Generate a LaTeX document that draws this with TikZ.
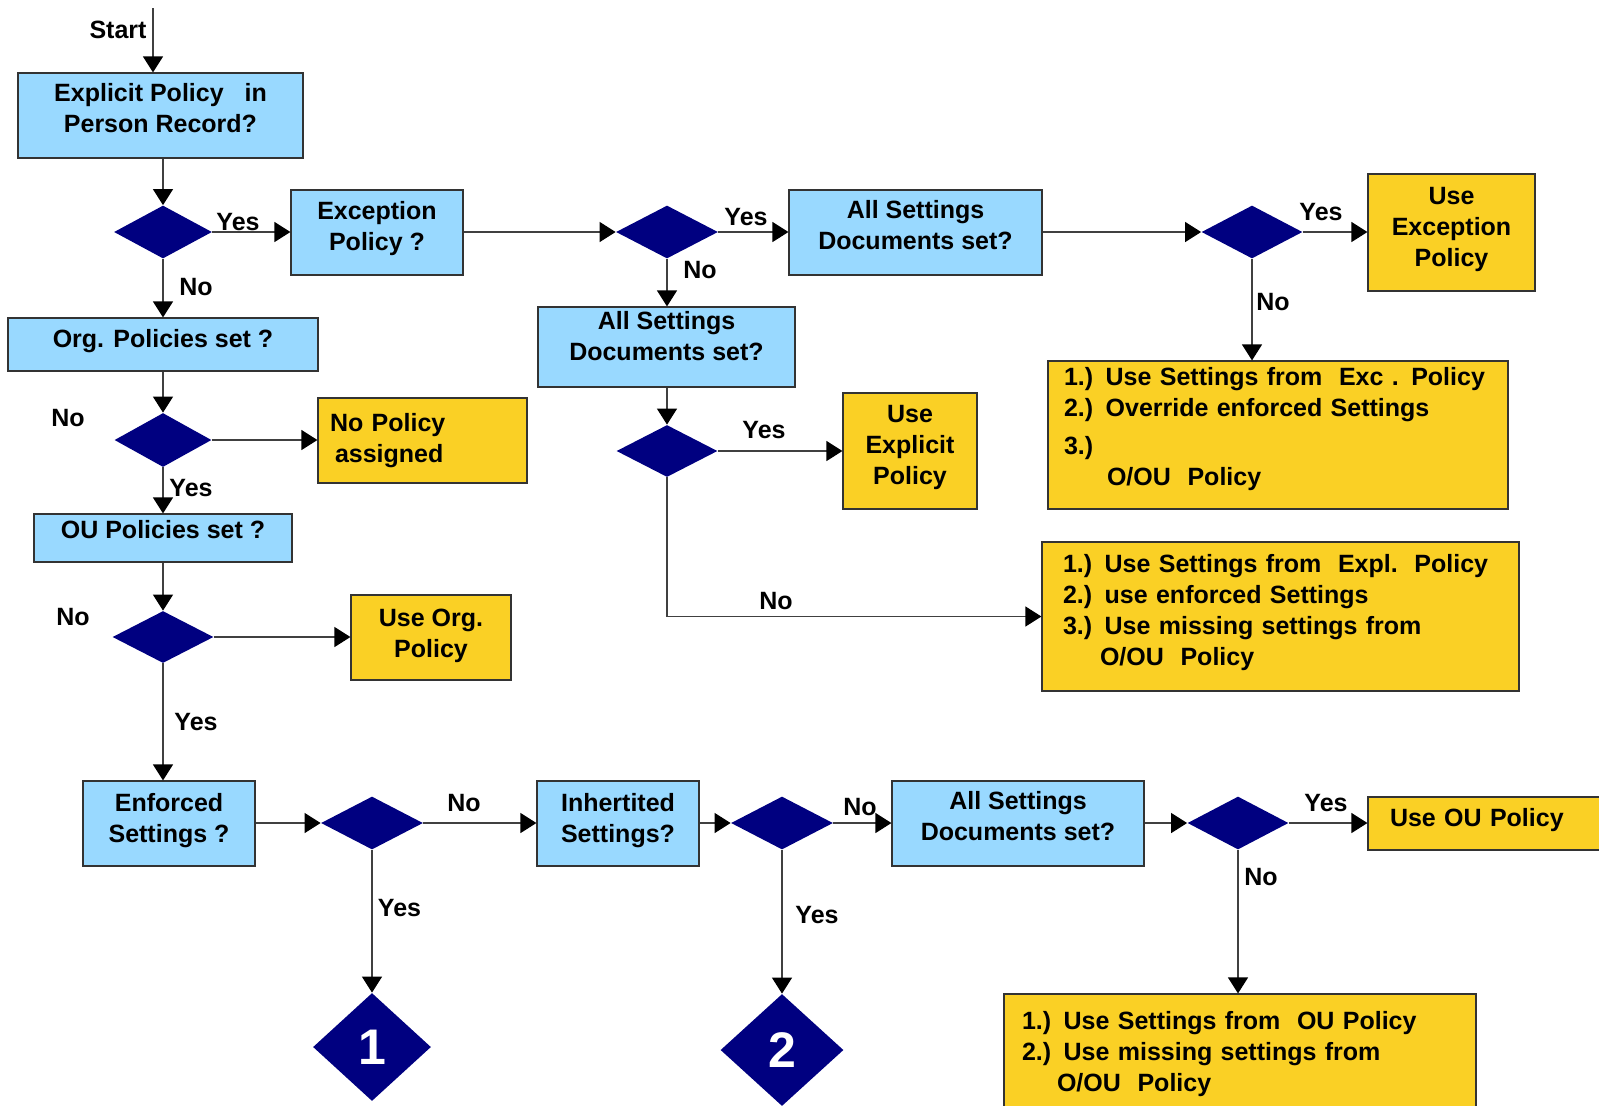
\documentclass[tikz,border=0pt]{standalone}
\usepackage{fontspec}
\setmainfont{Liberation Sans}
\usetikzlibrary{shapes.geometric,arrows.meta}
\definecolor{lblue}{RGB}{153,217,255}
\definecolor{lyell}{RGB}{250,208,37}
\definecolor{navyd}{RGB}{0,0,128}
\newcommand\rlift[3]{\raisebox{#1}[\height][\depth]{\begin{tabular}{@{}#2@{}}#3\end{tabular}}}
\begin{document}
\begin{tikzpicture}[x=0.5pt,y=-0.5pt,
  txt/.style={font=\bfseries\fontsize{12.5}{15.5}\selectfont},
  qbox/.style={txt, draw=black!80, line width=0.6pt, fill=lblue, align=center, inner sep=0pt},
  abox/.style={qbox, fill=lyell},
  lbox/.style={abox, align=left, inner ysep=0pt},
  dec/.style={diamond, fill=navyd, draw=none, inner sep=0pt},
  conn/.style={draw=black!75, line width=0.6pt, -{Triangle[length=8pt,width=10pt,color=black]}},
  lbl/.style={txt, inner sep=0pt}]
\useasboundingbox (0,0) rectangle (1599,1105);
% boxes
\node[qbox, minimum width=142.5pt, minimum height=42.5pt] (A) at (160.5,115.5) {\rlift{2.5pt}{c}{Explicit Policy\ \ \ in\\Person Record?}};
\node[qbox, minimum width=86pt, minimum height=42.5pt] (B) at (377,232.5) {\rlift{2pt}{c}{Exception\\Policy ?}};
\node[qbox, minimum width=155pt, minimum height=26.5pt] (C) at (163,344.5) {\rlift{1.5pt}{c}{Org. Policies set ?}};
\node[lbox, inner xsep=6pt, text width=92.5pt, minimum height=42.5pt] (NP) at (422.5,440.5) {No Policy\\\hspace*{2.5pt}assigned};
\node[qbox, minimum width=129pt, minimum height=24pt] (E) at (163,538) {\rlift{3pt}{c}{OU Policies set ?}};
\node[abox, minimum width=80pt, minimum height=42.5pt] (UO) at (431,637.5) {\rlift{1pt}{c}{Use Org.\\Policy}};
\node[qbox, minimum width=86pt, minimum height=42.5pt] (EN) at (169,823.5) {\rlift{1.5pt}{c}{Enforced\\Settings ?}};
\node[qbox, minimum width=81pt, minimum height=42.5pt] (IN) at (618,823.5) {\rlift{1.5pt}{c}{Inhertited\\Settings?}};
\node[qbox, minimum width=126pt, minimum height=42.5pt] (AS) at (1018,823.5) {\rlift{2.5pt}{c}{All Settings\\Documents set?}};
\node[lbox, inner xsep=11pt, text width=104pt, minimum height=26.5pt] (UOU) at (1494,823.5) {\rlift{1.5pt}{l}{Use OU Policy}};
\node[lbox, inner xsep=9pt, text width=218pt, minimum height=60pt] (BR) at (1240,1054) {1.) Use Settings from\ \ OU Policy\\2.) Use missing settings from\\\hspace*{17.5pt}O/OU\ \ Policy};
\node[qbox, minimum width=126.5pt, minimum height=42.5pt] (F) at (915.5,232.5) {\rlift{2.5pt}{c}{All Settings\\Documents set?}};
\node[qbox, minimum width=128.5pt, minimum height=40pt] (G) at (666.5,347) {\rlift{4pt}{c}{All Settings\\Documents set?}};
\node[abox, minimum width=67pt, minimum height=58pt] (UE) at (910,451) {\rlift{2pt}{c}{Use\\Explicit\\Policy}};
\node[lbox, inner xsep=10.5pt, text width=217.5pt, minimum height=74.5pt] (H) at (1280.5,616.5) {\rlift{2pt}{l}{1.) Use Settings from\ \ Expl.\ \ Policy\\2.) use enforced Settings\\3.) Use missing settings from\\\hspace*{18.5pt}O/OU\ \ Policy}};
\node[abox, minimum width=83.5pt, minimum height=58.5pt] (UX) at (1451.5,232.5) {\rlift{1.5pt}{c}{Use\\Exception\\Policy}};
\node[lbox, inner xsep=8pt, text width=214pt, minimum height=74pt] (I) at (1278,435) {\rlift{3pt}{l}{1.) Use Settings from\ \ Exc . Policy\\2.) Override enforced Settings\\[3.5pt]3.)\\\hspace*{21.5pt}O/OU\ \ Policy}};
% decisions
\node[dec, minimum width=49pt, minimum height=26.5pt] (D1) at (163,232) {};
\node[dec, minimum width=48.5pt, minimum height=27pt] (D2) at (163,440) {};
\node[dec, minimum width=50.5pt, minimum height=26pt] (D3) at (163,637) {};
\node[dec, minimum width=51pt, minimum height=26.5pt] (D4) at (372,823) {};
\node[dec, minimum width=51pt, minimum height=26.5pt] (D5) at (782,823) {};
\node[dec, minimum width=50.5pt, minimum height=26.5pt] (D6) at (1238,823) {};
\node[dec, minimum width=51pt, minimum height=26.5pt] (D7) at (667,232) {};
\node[dec, minimum width=50.5pt, minimum height=26pt] (D8) at (667,451) {};
\node[dec, minimum width=50.5pt, minimum height=26.5pt] (D9) at (1252,232) {};
\node[dec, minimum width=59pt, minimum height=54pt, text=white, font=\bfseries\fontsize{25}{28}\selectfont] (N1) at (372,1047) {1};
\node[dec, minimum width=61.5pt, minimum height=56pt, text=white, font=\bfseries\fontsize{25}{28}\selectfont] (N2) at (782,1050) {2};
% start
\coordinate (st) at (153,8);
\node[lbl] (lst) at (118,30) {Start};
% connectors
\draw[conn] (st) -- (st |- A.north);
\draw[conn] (A.south -| D1) -- (D1.north);
\draw[conn] (D1.east) -- (B.west |- D1);
\draw[conn] (D1.south) -- (C.north -| D1);
\draw[conn] (B.east |- D7) -- (D7.west);
\draw[conn] (D7.east) -- (F.west |- D7);
\draw[conn] (D7.south) -- (G.north -| D7);
\draw[conn] (G.south -| D8) -- (D8.north);
\draw[conn] (D8.east) -- (UE.west |- D8);
\draw[conn] (D8.south) |- (H.west);
\draw[conn] (F.east |- D9) -- (D9.west);
\draw[conn] (D9.east) -- (UX.west |- D9);
\draw[conn] (D9.south) -- (I.north -| D9);
\draw[conn] (C.south -| D2) -- (D2.north);
\draw[conn] (D2.east) -- (NP.west |- D2);
\draw[conn] (D2.south) -- (E.north -| D2);
\draw[conn] (E.south -| D3) -- (D3.north);
\draw[conn] (D3.east) -- (UO.west |- D3);
\draw[conn] (D3.south) -- (EN.north -| D3);
\draw[conn] (EN.east |- D4) -- (D4.west);
\draw[conn] (D4.east) -- (IN.west |- D4);
\draw[conn] (D4.south) -- (N1.north);
\draw[conn] (IN.east |- D5) -- (D5.west);
\draw[conn] (D5.east) -- (AS.west |- D5);
\draw[conn] (D5.south) -- (N2.north);
\draw[conn] (AS.east |- D6) -- (D6.west);
\draw[conn] (D6.east) -- (UOU.west |- D6);
\draw[conn] (D6.south) -- (BR.north -| D6);
% labels
\node[lbl] (l1) at (238,222) {Yes};
\node[lbl] (l2) at (196,287) {No};
\node[lbl] (l3) at (68,418) {No};
\node[lbl] (l4) at (191,488) {Yes};
\node[lbl] (l5) at (73,617) {No};
\node[lbl] (l6) at (196,722) {Yes};
\node[lbl] (l7) at (464,803) {No};
\node[lbl] (l8) at (399.5,908) {Yes};
\node[lbl] (l9) at (817,915) {Yes};
\node[lbl] (l10) at (860,807) {No};
\node[lbl] (l11) at (1326,803) {Yes};
\node[lbl] (l12) at (1261,877) {No};
\node[lbl] (l13) at (746,217) {Yes};
\node[lbl] (l14) at (700,270) {No};
\node[lbl] (l15) at (764,430) {Yes};
\node[lbl] (l16) at (776,601) {No};
\node[lbl] (l17) at (1321,212) {Yes};
\node[lbl] (l18) at (1273,302) {No};
\end{tikzpicture}
\end{document}
